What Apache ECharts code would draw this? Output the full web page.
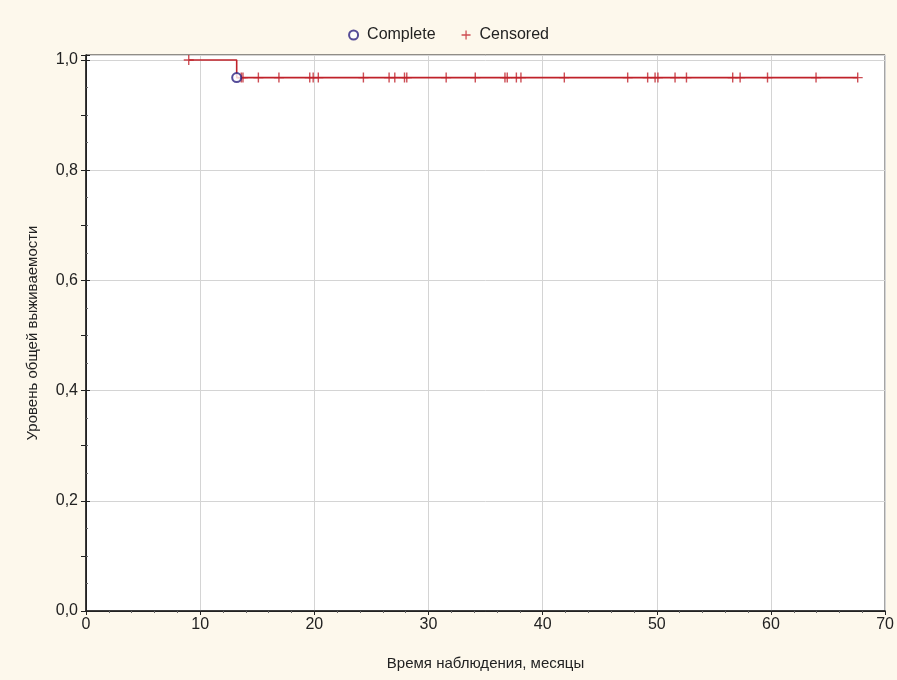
<!DOCTYPE html>
<html><head><meta charset="utf-8">
<script src="https://cdn.jsdelivr.net/npm/echarts@6/dist/echarts.min.js"></script>
<style>html,body{margin:0;padding:0;background:#fdf8ec;}#c{width:897px;height:680px;}</style>
</head><body><div id="c"></div>
<script>
// Kaplan-Meier step curve
const stepTimes = [9, 13.2, 67.6];
const stepSurvival = [1.0, 0.968, 0.968];
// Events (Complete)
const completeTimes = [13.2];
const completeSurvival = [0.968];
// Censored observations
const censoredTimes = [9.0, 13.6, 13.75, 15.1, 16.9, 19.6, 19.9, 20.35, 24.3, 26.55, 27.05, 27.9, 28.1, 31.55, 34.1, 36.7, 36.9, 37.7, 38.1, 41.9, 47.45, 49.2, 49.85, 50.1, 51.6, 52.6, 56.65, 57.3, 59.7, 63.95, 67.6];
const censoredSurvival = [1.0, 0.968, 0.968, 0.968, 0.968, 0.968, 0.968, 0.968, 0.968, 0.968, 0.968, 0.968, 0.968, 0.968, 0.968, 0.968, 0.968, 0.968, 0.968, 0.968, 0.968, 0.968, 0.968, 0.968, 0.968, 0.968, 0.968, 0.968, 0.968, 0.968, 0.968];
const xTicks = [0, 10, 20, 30, 40, 50, 60, 70];
const yTicks = [0, 0.2, 0.4, 0.6, 0.8, 1.0];
const xTitle = 'Время наблюдения, месяцы';
const yTitle = 'Уровень общей выживаемости';

const FONT = '"Liberation Sans", Arial, sans-serif';
const RED = '#c0222a';
const NAVY = '#2a1f80';
const plus = 'path://M4.3,0L5.7,0L5.7,4.3L10,4.3L10,5.7L5.7,5.7L5.7,10L4.3,10L4.3,5.7L0,5.7L0,4.3L4.3,4.3Z';

const chart = echarts.init(document.getElementById('c'));
chart.setOption({
  backgroundColor: '#fdf8ec',
  animation: false,
  textStyle: {fontFamily: FONT},
  legend: {
    top: 22, left: 'center', itemGap: 26, itemWidth: 9, itemHeight: 9,
    textStyle: {fontFamily: FONT, fontSize: 16, color: '#222', padding: [0, 0, 0, 4]},
    data: [
      {name: 'Complete', icon: 'emptyCircle', itemStyle: {color: NAVY, borderColor: NAVY, borderWidth: 1.5}},
      {name: 'Censored', icon: plus, itemStyle: {color: RED}}
    ]
  },
  grid: {left: 86, right: 10, top: 55, bottom: 69, show: true, backgroundColor: '#ffffff', borderColor: '#222', borderWidth: 1},
  xAxis: [{
    type: 'value', min: xTicks[0], max: xTicks[xTicks.length - 1], interval: 10,
    name: xTitle, nameLocation: 'middle', nameGap: 45,
    nameTextStyle: {fontFamily: FONT, fontSize: 15, color: '#222'},
    axisLine: {lineStyle: {color: '#222', width: 1.5}},
    axisTick: {show: true, inside: false, length: 4, lineStyle: {color: '#222'}},
    minorTick: {show: true, splitNumber: 5, length: 2, lineStyle: {color: '#666'}},
    axisLabel: {fontFamily: FONT, fontSize: 16, color: '#222', margin: 6},
    splitLine: {show: true, lineStyle: {color: '#d4d4d4'}}
  }, {
    type: 'value', position: 'top', min: xTicks[0], max: xTicks[xTicks.length - 1], interval: 10,
    axisLine: {show: true, lineStyle: {color: '#222'}},
    axisTick: {show: true, inside: true, length: 4, lineStyle: {color: '#222'}},
    minorTick: {show: false},
    axisLabel: {show: false}, splitLine: {show: false}
  }],
  yAxis: [{
    type: 'value', min: 0, max: 1.009, interval: 0.2,
    name: yTitle, nameLocation: 'middle', nameGap: 46,
    nameTextStyle: {fontFamily: FONT, fontSize: 15, color: '#222'},
    axisLine: {show: true, lineStyle: {color: '#222', width: 1.5}},
    axisTick: {show: true, length: 5, lineStyle: {color: '#222'}},
    minorTick: {show: true, splitNumber: 2, length: 5, lineStyle: {color: '#222'}},
    axisLabel: {fontFamily: FONT, fontSize: 16, color: '#222', margin: 8, showMaxLabel: false,
      formatter: v => v.toFixed(1).replace('.', ',')},
    splitLine: {show: true, lineStyle: {color: '#d4d4d4'}}
  }, {
    type: 'value', position: 'right', min: 0, max: 1.009, interval: 0.2,
    axisLine: {show: true, lineStyle: {color: '#222'}},
    axisTick: {show: true, length: 4, lineStyle: {color: '#222'}},
    minorTick: {show: true, splitNumber: 4, length: 2, lineStyle: {color: '#666'}},
    axisLabel: {show: false}, splitLine: {show: false}
  }],
  series: [{
    name: 'KM', type: 'line', step: 'end', symbol: 'none',
    data: stepTimes.map((t, i) => [t, stepSurvival[i]]),
    lineStyle: {color: RED, width: 1.6}, z: 2
  }, {
    name: 'Censored', type: 'scatter', symbol: plus, symbolSize: 10,
    data: censoredTimes.map((t, i) => [t, censoredSurvival[i]]),
    itemStyle: {color: RED}, z: 3
  }, {
    name: 'Complete', type: 'scatter', symbol: 'emptyCircle', symbolSize: 9,
    data: completeTimes.map((t, i) => [t, completeSurvival[i]]),
    itemStyle: {color: NAVY, borderColor: NAVY, borderWidth: 1.8}, z: 4
  }]
});
</script></body></html>
